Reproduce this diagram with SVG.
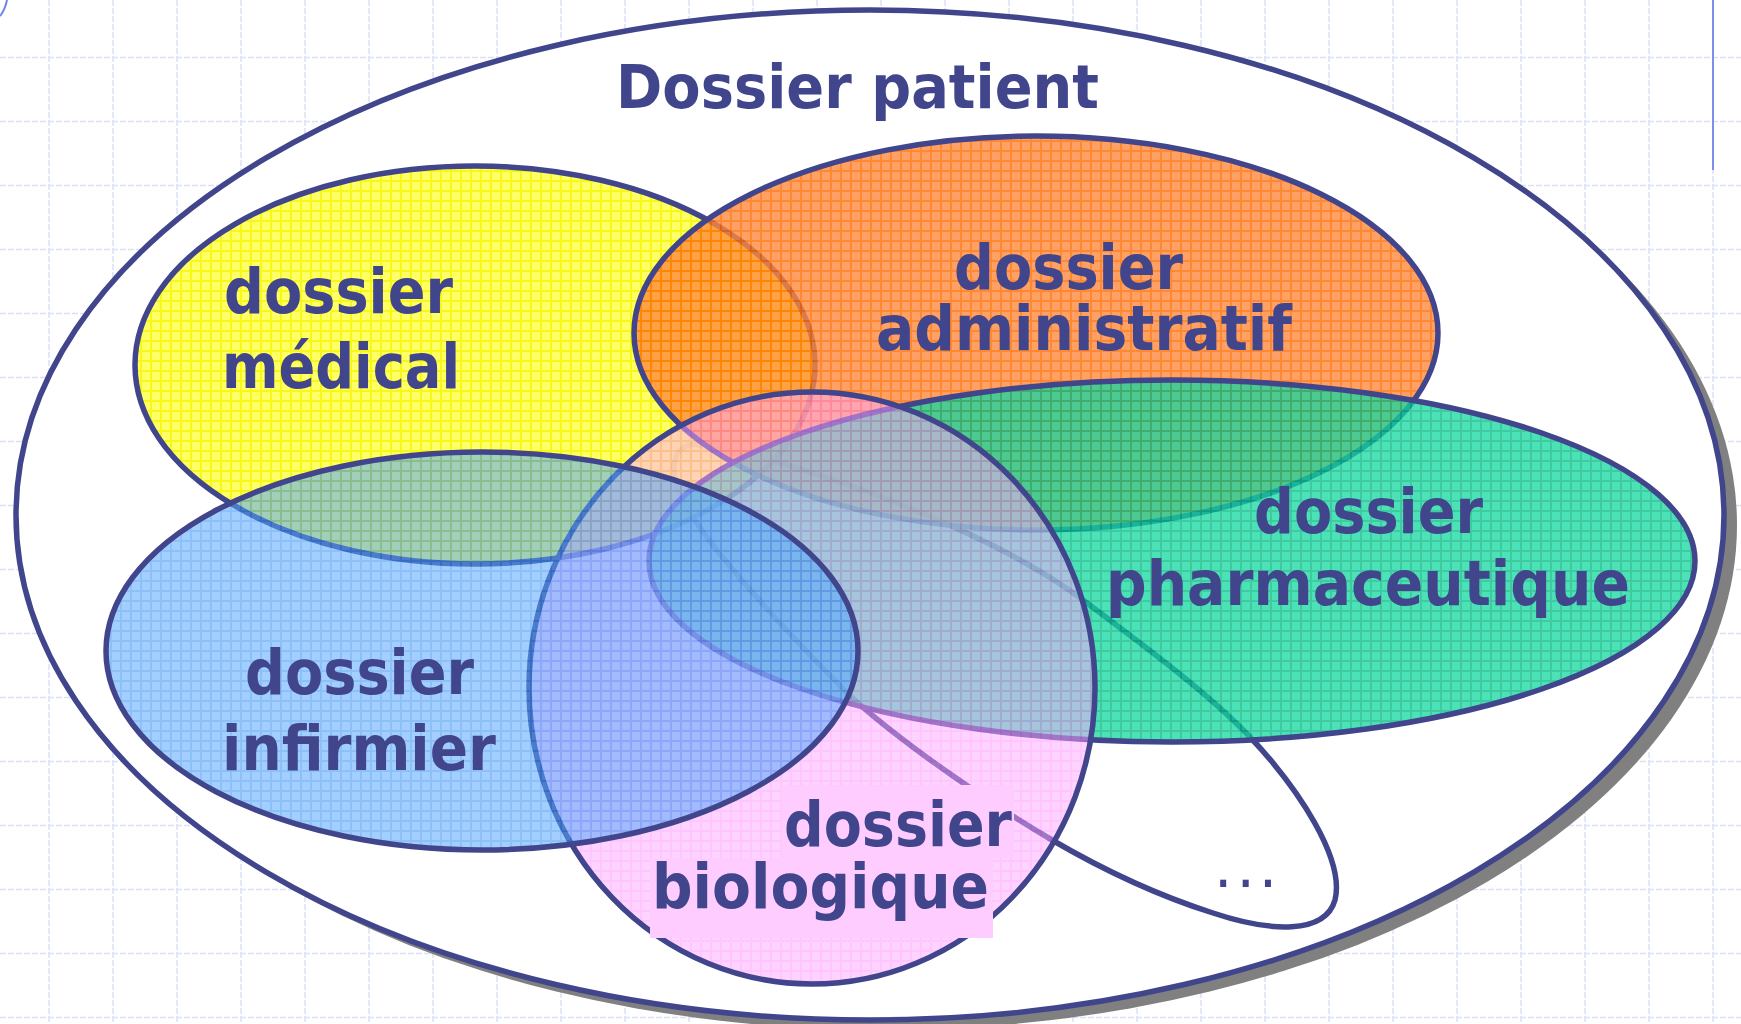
<svg xmlns="http://www.w3.org/2000/svg" width="1741" height="1024" viewBox="0 0 1741 1024">
  <defs>
    <style>
      .grid { stroke: #d9e1f7; stroke-width: 1.5; stroke-dasharray: 6 2; fill: none; }
      .edge { stroke: #41458c; stroke-width: 5.5; }
      .lbl { font-family: "DejaVu Sans", "Liberation Sans", sans-serif; font-weight: bold; font-size: 62px; fill: #41458c; }
      .title { font-family: "DejaVu Sans", "Liberation Sans", sans-serif; font-weight: bold; font-size: 61px; fill: #41458c; }
      .dots { font-family: "DejaVu Sans", "Liberation Sans", sans-serif; font-size: 58px; letter-spacing: 4px; fill: #41458c; }
    </style>
    <pattern id="pYellow" width="10" height="10" patternUnits="userSpaceOnUse">
      <rect width="10" height="10" fill="#ffff55"/>
      <path d="M0,1H10M1,0V10" stroke="#f6f600" stroke-width="2"/>
    </pattern>
    <pattern id="pOrange" width="10" height="10" patternUnits="userSpaceOnUse">
      <rect width="10" height="10" fill="#ff8a3d"/>
      <path d="M0,1H10M1,0V10" stroke="#ff6a00" stroke-width="2"/>
    </pattern>
    <pattern id="pGreen" width="10" height="10" patternUnits="userSpaceOnUse">
      <rect width="10" height="10" fill="#10d8a0"/>
      <path d="M0,1H10M1,0V10" stroke="#00b880" stroke-width="2"/>
    </pattern>
    <pattern id="pPink" width="10" height="10" patternUnits="userSpaceOnUse">
      <rect width="10" height="10" fill="#ffa8ff"/>
      <path d="M0,1H10M1,0V10" stroke="#ff8cff" stroke-width="2"/>
    </pattern>
    <pattern id="pBlue" width="10" height="10" patternUnits="userSpaceOnUse">
      <rect width="10" height="10" fill="#55a8ff"/>
      <path d="M0,1H10M1,0V10" stroke="#2f8cf0" stroke-width="2"/>
    </pattern>
  </defs>

  <!-- page background with dashed grid -->
  <g id="background">
    <rect width="1741" height="1024" fill="#ffffff"/>
    <path class="grid" d="M49,0V1024M113,0V1024M177,0V1024M241,0V1024M305,0V1024M369,0V1024M433,0V1024M497,0V1024M561,0V1024M625,0V1024M689,0V1024M753,0V1024M817,0V1024M881,0V1024M945,0V1024M1009,0V1024M1073,0V1024M1137,0V1024M1201,0V1024M1265,0V1024M1329,0V1024M1393,0V1024M1457,0V1024M1521,0V1024M1585,0V1024M1649,0V1024M1713,0V1024"/>
    <path class="grid" d="M0,57.5H1741M0,121.5H1741M0,185.5H1741M0,249.5H1741M0,313.5H1741M0,377.5H1741M0,441.5H1741M0,505.5H1741M0,569.5H1741M0,633.5H1741M0,697.5H1741M0,761.5H1741M0,825.5H1741M0,889.5H1741M0,953.5H1741M0,1017.5H1741"/>
    <path d="M0,16 Q5,10 7,0" fill="none" stroke="#6f86e6" stroke-width="2"/>
    <path d="M1713,0V170" stroke="#7d8fe6" stroke-width="2"/>
  </g>

  <!-- outer container: the whole patient record -->
  <g id="dossier-patient">
    <ellipse cx="883" cy="525" rx="854" ry="505" fill="#808080"/>
    <ellipse class="edge" cx="870" cy="515" rx="854" ry="505" fill="#ffffff" stroke-width="6"/>
    <text class="title" x="616" y="108" textLength="483" lengthAdjust="spacingAndGlyphs">Dossier patient</text>
  </g>

  <!-- open-ended "other records" loop -->
  <g id="autres">
    <path class="edge" fill="none" stroke-width="5" d="M1250,737 C1300,790 1345,860 1335,900 C1325,935 1270,932 1213,913 C1150,893 1100,868 1052,840 C960,785 880,725 844,690 C790,635 720,560 690,513 C665,475 670,440 700,445 C800,460 990,530 1083,600 C1150,650 1210,695 1250,737 Z"/>
    <text class="dots" x="1214" y="887">...</text>
  </g>

  <g id="dossier-medical">
    <ellipse class="edge" cx="475" cy="365" rx="340" ry="199" fill="url(#pYellow)" fill-opacity="0.9"/>
    <text class="lbl" x="224" y="313" textLength="229" lengthAdjust="spacingAndGlyphs">dossier</text>
    <text class="lbl" x="222" y="388" textLength="238" lengthAdjust="spacingAndGlyphs">médical</text>
  </g>

  <g id="dossier-administratif">
    <ellipse class="edge" cx="1036" cy="333" rx="402" ry="197" fill="url(#pOrange)" fill-opacity="0.8"/>
    <text class="lbl" x="954" y="289" textLength="229" lengthAdjust="spacingAndGlyphs">dossier</text>
    <text class="lbl" x="876" y="350" textLength="416" lengthAdjust="spacingAndGlyphs">administratif</text>
  </g>

  <g id="dossier-pharmaceutique">
    <ellipse class="edge" cx="1172" cy="561" rx="523" ry="181" fill="url(#pGreen)" fill-opacity="0.75"/>
    <text class="lbl" x="1254" y="533" textLength="229" lengthAdjust="spacingAndGlyphs">dossier</text>
    <text class="lbl" x="1106" y="605" textLength="524" lengthAdjust="spacingAndGlyphs">pharmaceutique</text>
  </g>

  <g id="dossier-biologique">
    <ellipse class="edge" cx="812" cy="688" rx="283" ry="296" fill="url(#pPink)" fill-opacity="0.5"/>
    <rect x="781" y="785" width="233" height="73" fill="#ffccff"/>
    <rect x="650" y="858" width="343" height="80" fill="#ffccff"/>
    <text class="lbl" x="784" y="846" textLength="228" lengthAdjust="spacingAndGlyphs">dossier</text>
    <text class="lbl" x="652" y="908" textLength="337" lengthAdjust="spacingAndGlyphs">biologique</text>
  </g>

  <g id="dossier-infirmier">
    <ellipse class="edge" cx="482" cy="651" rx="376" ry="199" fill="url(#pBlue)" fill-opacity="0.55"/>
    <text class="lbl" x="245" y="694" textLength="229" lengthAdjust="spacingAndGlyphs">dossier</text>
    <text class="lbl" x="222" y="770" textLength="274" lengthAdjust="spacingAndGlyphs">infirmier</text>
  </g>
</svg>
